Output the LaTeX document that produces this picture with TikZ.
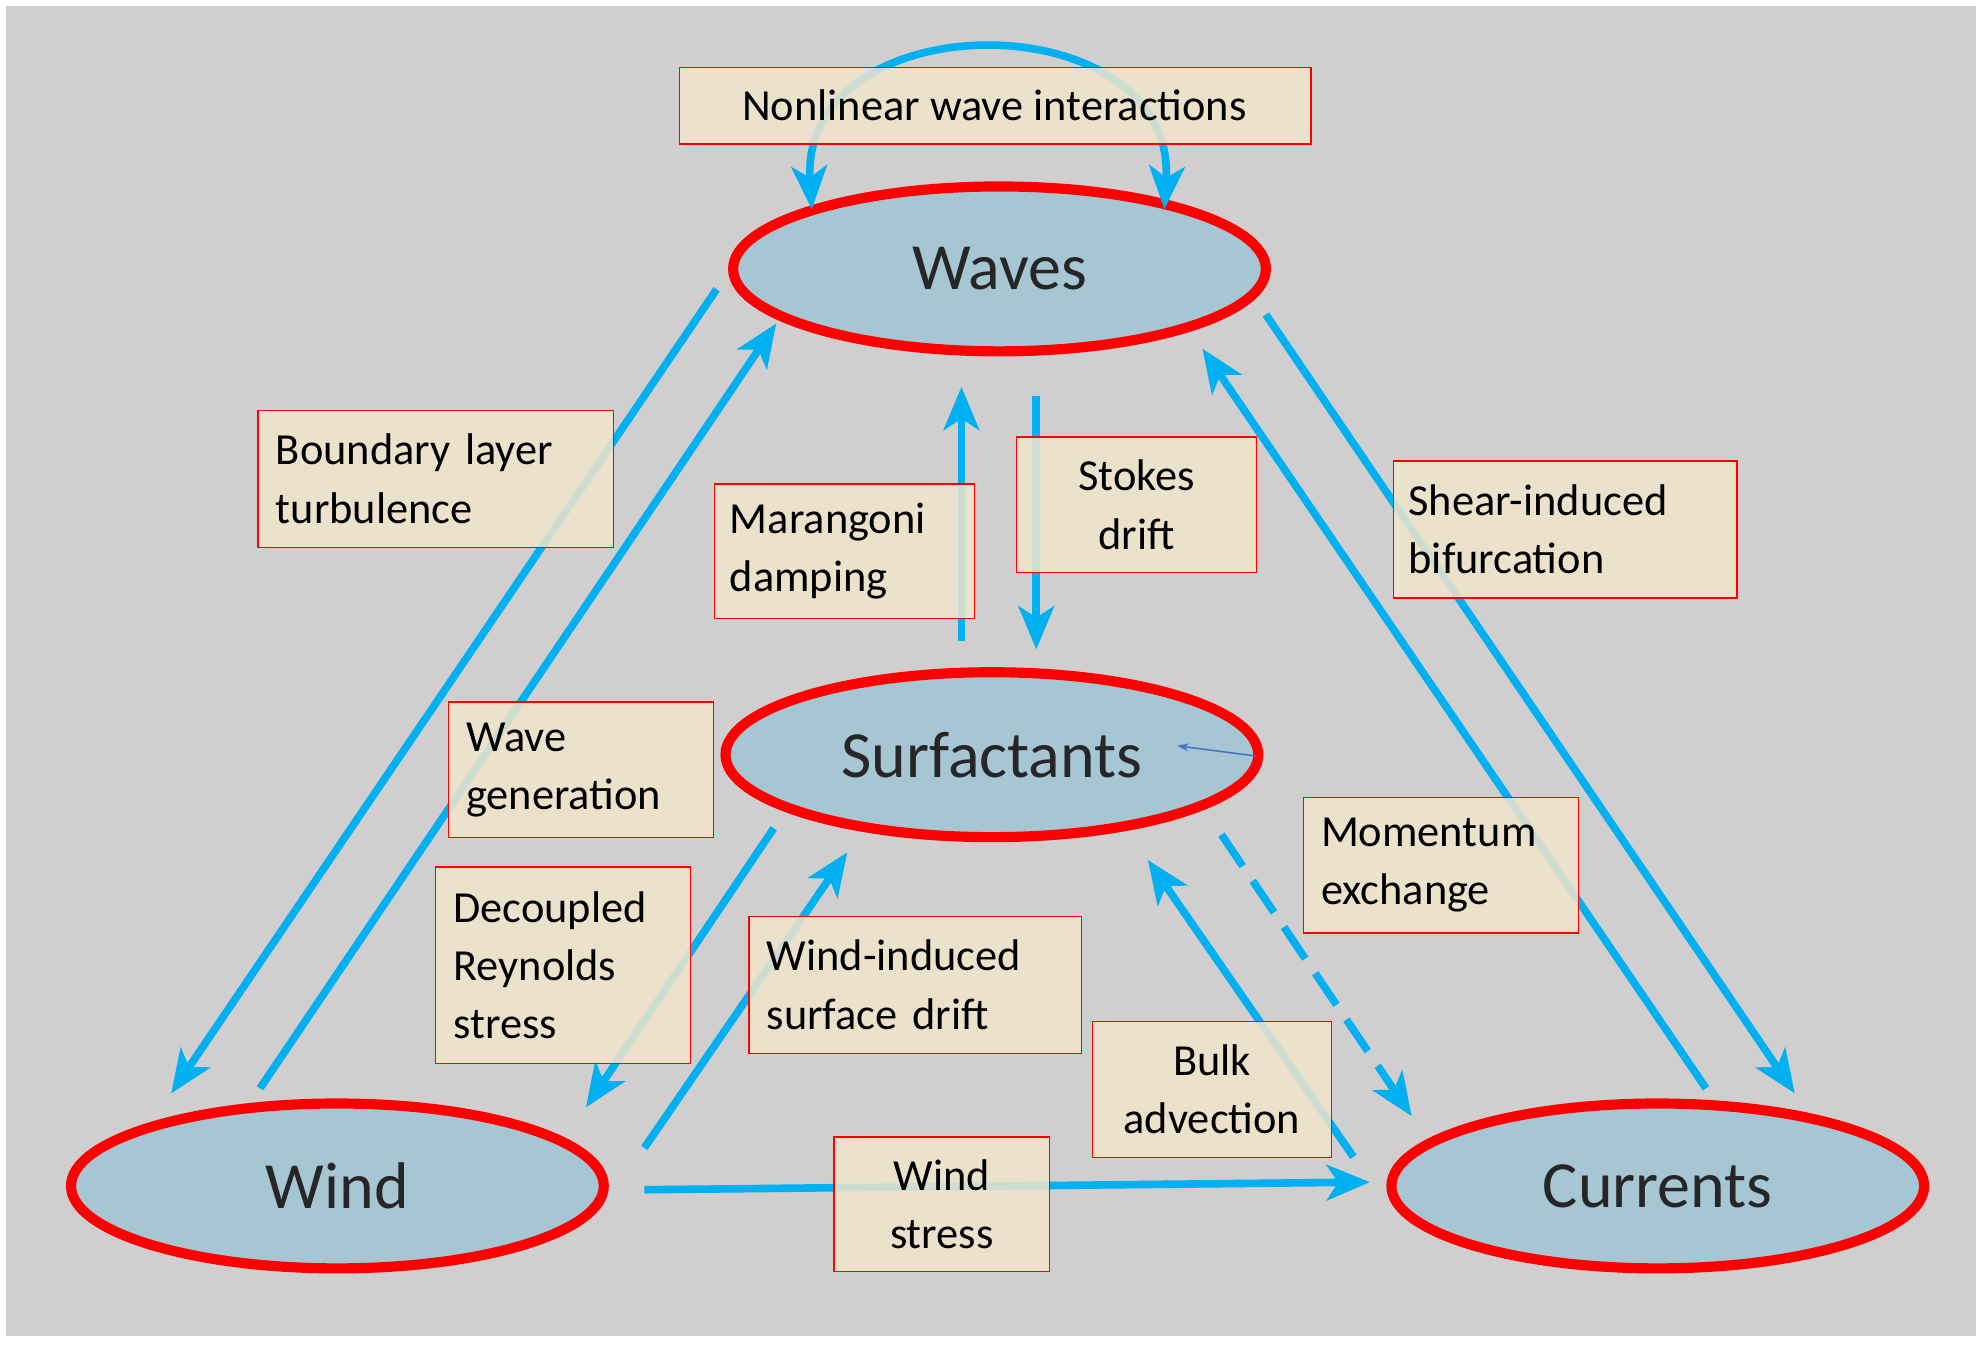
\documentclass[tikz,border=0pt]{standalone}
\usepackage{fontspec}
\setmainfont{Carlito}
\usetikzlibrary{arrows.meta,shapes.geometric}
\definecolor{bg}{RGB}{208,206,207}
\definecolor{ell}{RGB}{166,198,212}
\definecolor{cy}{RGB}{0,176,240}
\definecolor{bx}{RGB}{242,230,204}
\definecolor{sm}{RGB}{68,114,196}
\begin{document}
\begin{tikzpicture}[x=1pt,y=-1pt,
  el/.style={ellipse,draw=red,line width=8pt,fill=ell,minimum width=420pt,minimum height=130pt,font=\fontsize{52}{56}\selectfont,text=black!85},
  lb/.style={draw=red,line width=1pt,fill=bx,fill opacity=0.85,text opacity=1,font=\fontsize{35}{46}\selectfont,anchor=north west,inner sep=0pt},
  ar/.style={draw=cy,line width=6pt,-{Stealth[length=34pt,width=28pt,inset=9pt]}}]
\useasboundingbox (0,0) rectangle (1565,1065);
\fill[white] (0,0) rectangle (1565,1065);
\fill[bg] (5,5) rectangle (1558,1053);
\node[el] (waves) at (788,212) {Waves};
\node[el] (surf) at (782,595) {Surfactants};
\node[el] (wind) at (266,935) {Wind};
\node[el] (cur) at (1307,935) {Currents};
\coordinate (l1) at (640,165); \coordinate (l2) at (918,165);
\coordinate (a1) at (565,228); \coordinate (a2) at (135,862);
\coordinate (b1) at (205,858); \coordinate (b2) at (612,255);
\coordinate (c1) at (758,505); \coordinate (c2) at (758,305);
\coordinate (d1) at (817,312); \coordinate (d2) at (817,512);
\coordinate (e1) at (998,248); \coordinate (e2) at (1415,862);
\coordinate (f1) at (1345,858); \coordinate (f2) at (948,275);
\coordinate (g1) at (610,653); \coordinate (g2) at (462,873);
\coordinate (h1) at (508,905); \coordinate (h2) at (668,672);
\coordinate (i1) at (1067,912); \coordinate (i2) at (905,678);
\coordinate (j1) at (963,658); \coordinate (j2) at (1113,880);
\coordinate (k1) at (508,938); \coordinate (k2) at (1080,932);
\coordinate (s1) at (990,596); \coordinate (s2) at (928,588);
\draw[ar,{Stealth[length=34pt,width=28pt,inset=9pt]}-{Stealth[length=34pt,width=28pt,inset=9pt]}] (l1) .. controls (630,0) and (928,0) .. (l2);
\draw[ar] (a1) -- (a2);
\draw[ar] (b1) -- (b2);
\draw[ar] (c1) -- (c2);
\draw[ar] (d1) -- (d2);
\draw[ar] (e1) -- (e2);
\draw[ar] (f1) -- (f2);
\draw[ar] (g1) -- (g2);
\draw[ar] (h1) -- (h2);
\draw[ar] (i1) -- (i2);
\draw[ar,dash pattern=on 30pt off 14pt] (j1) -- (j2);
\draw[ar] (k1) -- (k2);
\draw[sm,line width=1.2pt,-{Stealth[length=9pt,width=6pt]}] (s1) -- (s2);
\node[lb,minimum width=498pt,minimum height=60pt] (t1) at (535,53) {};
\node[font=\fontsize{35}{46}\selectfont] (t1t) at (784,83) {Nonlinear wave interactions};
\node[lb,minimum width=280pt,minimum height=108pt,text width=252pt,align=left,inner xsep=14pt] (t2) at (203,323) {Boundary layer\\turbulence};
\node[lb,minimum width=205pt,minimum height=106pt,text width=181pt,align=left,inner xsep=12pt] (t3) at (563,381) {Marangoni\\damping};
\node[lb,minimum width=189pt,minimum height=107pt,text width=189pt,align=center] (t4) at (801,344) {Stokes\\drift};
\node[lb,minimum width=271pt,minimum height=108pt,text width=247pt,align=left,inner xsep=12pt] (t5) at (1098,363) {Shear-induced\\bifurcation};
\node[lb,minimum width=209pt,minimum height=107pt,text width=181pt,align=left,inner xsep=14pt] (t6) at (353,553) {Wave\\generation};
\node[lb,minimum width=217pt,minimum height=107pt,text width=189pt,align=left,inner xsep=14pt] (t7) at (1027,628) {Momentum\\exchange};
\node[lb,minimum width=201pt,minimum height=155pt,text width=173pt,align=left,inner xsep=14pt] (t8) at (343,683) {Decoupled\\Reynolds\\stress};
\node[lb,minimum width=262pt,minimum height=108pt,text width=234pt,align=left,inner xsep=14pt] (t9) at (590,722) {Wind-induced\\surface drift};
\node[lb,minimum width=188pt,minimum height=107pt,text width=188pt,align=center] (t10) at (861,805) {Bulk\\advection};
\node[lb,minimum width=170pt,minimum height=106pt,text width=170pt,align=center] (t11) at (657,896) {Wind\\stress};
\end{tikzpicture}
\end{document}
